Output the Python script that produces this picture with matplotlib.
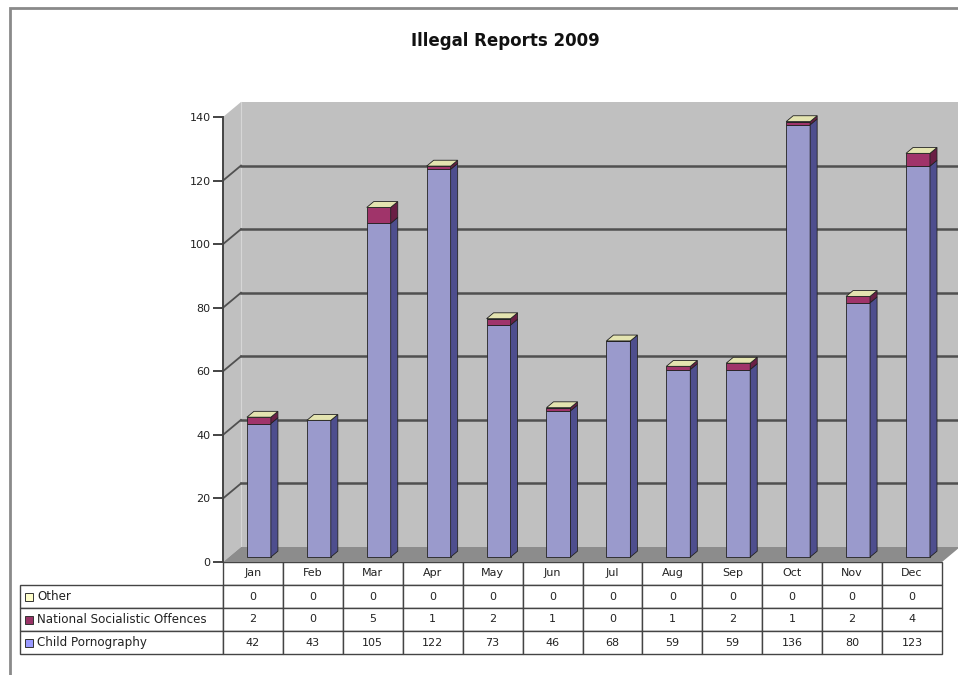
import matplotlib
matplotlib.use('Agg')
import matplotlib.pyplot as plt
import matplotlib.patches as patches
import numpy as np

months = ['Jan', 'Feb', 'Mar', 'Apr', 'May', 'Jun', 'Jul', 'Aug', 'Sep', 'Oct', 'Nov', 'Dec']
other = [0, 0, 0, 0, 0, 0, 0, 0, 0, 0, 0, 0]
nso = [2, 0, 5, 1, 2, 1, 0, 1, 2, 1, 2, 4]
cp = [42, 43, 105, 122, 73, 46, 68, 59, 59, 136, 80, 123]
series_names = ['Other', 'National Socialistic Offences', 'Child Pornography']
yticks = [0, 20, 40, 60, 80, 100, 120, 140]

W, H = 958, 675
fig = plt.figure(figsize=(W / 100, H / 100), dpi=100)


def px(x0, y0, x1, y1):
    return [x0 / W, 1 - y1 / H, (x1 - x0) / W, (y1 - y0) / H]


# outer chart frame
fig.add_artist(patches.Rectangle((10 / W, -0.05), 1.0, 1.05 - 8 / H, transform=fig.transFigure,
                                 fill=False, edgecolor='#8a8a8a', linewidth=2))

fig.text(505 / W, 1 - 41 / H, 'Illegal Reports 2009', ha='center', va='center',
         fontsize=12, fontweight='bold', color='#111111')

ax = fig.add_axes(px(223, 117, 942, 562))
ax.set_xlim(-0.5, 11.5)
ax.set_ylim(0, 140)
ax.patch.set_visible(False)

# 3d depth in data units
ox = 18 / (719 / 12)
oy = 15 / (445 / 140)
ymax = yticks[-1]
n = len(months)

wall = '#c0c0c0'
# back wall
ax.add_patch(patches.Polygon([(-0.5 + ox, oy), (n - 0.5 + ox, oy), (n - 0.5 + ox, ymax + oy), (-0.5 + ox, ymax + oy)],
                             closed=True, facecolor=wall, edgecolor='none', zorder=0, clip_on=False))
# side wall
ax.add_patch(patches.Polygon([(-0.5, 0), (-0.5 + ox, oy), (-0.5 + ox, ymax + oy), (-0.5, ymax)],
                             closed=True, facecolor=wall, edgecolor='none', zorder=0, clip_on=False))
ax.plot([-0.5 + ox, -0.5 + ox], [oy, ymax + oy], color='#d6d6d6', lw=0.8, zorder=0.5, clip_on=False)
# floor
ax.add_patch(patches.Polygon([(-0.5, 0), (n - 0.5, 0), (n - 0.5 + ox, oy), (-0.5 + ox, oy)],
                             closed=True, facecolor='#8c8c8c', edgecolor='none', zorder=0.6, clip_on=False))

# gridlines on back wall and side wall
for v in yticks[1:-1]:
    ax.plot([-0.5 + ox, n - 0.5 + ox], [v + oy, v + oy], color='#505050', lw=1.8, zorder=1, clip_on=False)
    ax.plot([-0.5, -0.5 + ox], [v, v + oy], color='#505050', lw=1.3, zorder=1, clip_on=False)

# bars
f0, f1 = 0.33, 0.72
bw = 0.40
x = np.arange(n) + f0 * ox
base = f0 * oy
cp_front, cp_side = '#9a9acc', '#4e4e8e'
nso_front, nso_side = '#a0346a', '#6a1f45'
top_col = '#e4e4b0'
ec = '#222222'
cp_arr = np.array(cp, dtype=float)
nso_arr = np.array(nso, dtype=float)
oth_arr = np.array(other, dtype=float)

ax.bar(x, cp_arr, width=bw, bottom=base, color=cp_front, edgecolor=ec, linewidth=0.6, zorder=3)
ax.bar(x, nso_arr, width=bw, bottom=base + cp_arr, color=nso_front, edgecolor=ec, linewidth=0.6, zorder=3)
ax.bar(x, oth_arr, width=bw, bottom=base + cp_arr + nso_arr, color=top_col, edgecolor=ec, linewidth=0.6, zorder=3)

d = f1 - f0
for i in range(n):
    xr = x[i] + bw / 2
    xl = x[i] - bw / 2
    segs = [(base, base + cp_arr[i], cp_side),
            (base + cp_arr[i], base + cp_arr[i] + nso_arr[i], nso_side)]
    for y0, y1, c in segs:
        if y1 <= y0:
            continue
        ax.add_patch(patches.Polygon([(xr, y0), (xr + d * ox, y0 + d * oy), (xr + d * ox, y1 + d * oy), (xr, y1)],
                                     closed=True, facecolor=c, edgecolor=ec, linewidth=0.6, zorder=3, clip_on=False))
    yt = base + cp_arr[i] + nso_arr[i] + oth_arr[i]
    ax.add_patch(patches.Polygon([(xl, yt), (xr, yt), (xr + d * ox, yt + d * oy), (xl + d * ox, yt + d * oy)],
                                 closed=True, facecolor=top_col, edgecolor=ec, linewidth=0.6, zorder=3.5, clip_on=False))

# axis
for s in ['top', 'right', 'bottom']:
    ax.spines[s].set_visible(False)
ax.spines['left'].set_color('#444444')
ax.spines['left'].set_linewidth(1.4)
ax.set_yticks(yticks)
ax.set_yticklabels([str(v) for v in yticks], fontsize=8, color='#222222')
ax.tick_params(axis='y', direction='out', length=7, width=1.4, color='#444444', pad=2)
ax.set_xticks([])

# data table: first column holds the series names
rows = [other, nso, cp]
cell_text = [[name] + [str(v) for v in vals] for name, vals in zip(series_names, rows)]
row_w = 203 / 719
tb_h = 92 / 445
tab = ax.table(cellText=cell_text, colLabels=[''] + months,
               colWidths=[row_w] + [1 / n] * n, cellLoc='center',
               bbox=[-row_w, -tb_h, 1 + row_w, tb_h])
tab.auto_set_font_size(False)
tab.set_fontsize(8)
for (r, c), cell in tab.get_celld().items():
    cell.set_edgecolor('#444444')
    cell.set_linewidth(1.0)
    cell.get_text().set_color('#222222')
    if c == 0:
        if r == 0:
            cell.set_visible(False)
        cell._loc = 'left'
        cell.get_text().set_horizontalalignment('left')
        cell.get_text().set_fontsize(8.6)
        cell.PAD = 0.085

# legend keys in the row labels
key_cols = ['#ffffcc', '#993366', '#9999ff']
for j, kc in enumerate(key_cols):
    yc = -tb_h * (j + 1.5) / 4
    ax.add_patch(patches.Rectangle((-row_w + 5 / 719, yc - 4 / 445), 8 / 719, 8 / 445, transform=ax.transAxes,
                                   facecolor=kc, edgecolor='#333333', linewidth=0.7, clip_on=False, zorder=5))

fig.savefig('out.png', dpi=100)
